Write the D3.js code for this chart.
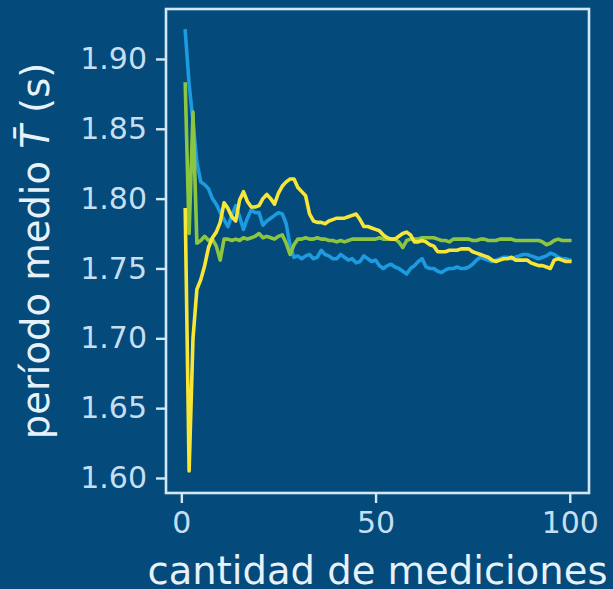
<!DOCTYPE html>
<html>
<head>
<meta charset="utf-8">
<script src="https://cdn.jsdelivr.net/npm/d3@7"></script>
<style>
  html, body { margin: 0; padding: 0; background: #044a7b; }
  svg { display: block; }
  text { font-family: "DejaVu Sans", sans-serif; }
</style>
</head>
<body>
<svg id="chart" width="613" height="589"></svg>
<script>
const measurements = d3.range(1, 101);

const seriesBlue = [
  1.920, 1.882, 1.855, 1.826, 1.812, 1.810, 1.807, 1.800, 1.796, 1.790,
  1.785, 1.780, 1.788, 1.795, 1.787, 1.778, 1.786, 1.792, 1.790, 1.790,
  1.781, 1.784, 1.786, 1.788, 1.790, 1.789, 1.782, 1.766, 1.758, 1.759,
  1.757, 1.759, 1.760, 1.757, 1.758, 1.763, 1.760, 1.759, 1.757, 1.757,
  1.760, 1.758, 1.756, 1.757, 1.754, 1.755, 1.759, 1.757, 1.755, 1.756,
  1.752, 1.750, 1.752, 1.753, 1.751, 1.750, 1.748, 1.746, 1.750, 1.752,
  1.755, 1.757, 1.751, 1.750, 1.750, 1.748, 1.747, 1.749, 1.750, 1.750,
  1.751, 1.750, 1.750, 1.751, 1.753, 1.756, 1.758, 1.757, 1.756, 1.755,
  1.756, 1.757, 1.758, 1.758, 1.757, 1.758, 1.759, 1.760, 1.760, 1.759,
  1.758, 1.757, 1.758, 1.759, 1.761, 1.760, 1.758, 1.757, 1.757, 1.756
];

const seriesGreen = [
  1.882, 1.775, 1.862, 1.768, 1.770, 1.773, 1.770, 1.771, 1.766, 1.756,
  1.771, 1.771, 1.770, 1.771, 1.770, 1.772, 1.771, 1.772, 1.773, 1.775,
  1.772, 1.773, 1.772, 1.771, 1.773, 1.774, 1.768, 1.760, 1.767, 1.771,
  1.771, 1.772, 1.771, 1.771, 1.772, 1.771, 1.771, 1.770, 1.770, 1.769,
  1.770, 1.769, 1.770, 1.771, 1.771, 1.771, 1.771, 1.771, 1.771, 1.771,
  1.772, 1.771, 1.771, 1.771, 1.771, 1.769, 1.765, 1.770, 1.771, 1.771,
  1.771, 1.772, 1.772, 1.772, 1.772, 1.771, 1.770, 1.770, 1.769, 1.771,
  1.771, 1.771, 1.771, 1.771, 1.770, 1.770, 1.771, 1.771, 1.770, 1.770,
  1.770, 1.771, 1.771, 1.771, 1.771, 1.770, 1.770, 1.770, 1.770, 1.770,
  1.770, 1.770, 1.769, 1.767, 1.768, 1.770, 1.771, 1.770, 1.770, 1.770
];

const seriesYellow = [
  1.792, 1.605, 1.700, 1.735, 1.742, 1.752, 1.765, 1.772, 1.776, 1.783,
  1.797, 1.793, 1.787, 1.784, 1.799, 1.805, 1.798, 1.794, 1.794, 1.795,
  1.800, 1.803, 1.800, 1.796, 1.804, 1.809, 1.812, 1.814, 1.814, 1.808,
  1.805, 1.802, 1.789, 1.784, 1.783, 1.783, 1.782, 1.784, 1.785, 1.786,
  1.786, 1.786, 1.787, 1.788, 1.789, 1.785, 1.780, 1.780, 1.779, 1.778,
  1.777, 1.774, 1.772, 1.771, 1.771, 1.773, 1.775, 1.776, 1.774, 1.769,
  1.769, 1.770, 1.769, 1.767, 1.766, 1.762, 1.762, 1.762, 1.763, 1.763,
  1.763, 1.764, 1.764, 1.764, 1.762, 1.761, 1.760, 1.759, 1.758, 1.756,
  1.755, 1.756, 1.757, 1.757, 1.758, 1.756, 1.756, 1.756, 1.756, 1.754,
  1.753, 1.752, 1.752, 1.751, 1.750, 1.756, 1.757, 1.756, 1.755, 1.755
];

const seriesColors = ["#1d9be0", "#8cc640", "#f8e636"];
const xTicks = [0, 50, 100];
const yTicks = [1.60, 1.65, 1.70, 1.75, 1.80, 1.85, 1.90];
const xLabel = "cantidad de mediciones";
const yLabelText = "período medio ";
const yLabelMath = "T\u0304";
const yLabelUnit = " (s)";

const W = 613, H = 589;
const plot = { left: 166, right: 589, top: 9, bottom: 493 };
const fg = "#d3e8f7";

const svg = d3.select("#chart");
svg.append("rect").attr("width", W).attr("height", H).attr("fill", "#044a7b");

const all = seriesBlue.concat(seriesGreen, seriesYellow);
const [ymin, ymax] = d3.extent(all);
const ypad = (ymax - ymin) * 0.05;
const [xmin, xmax] = d3.extent(measurements);
const xpad = (xmax - xmin) * 0.05;

const x = d3.scaleLinear().domain([xmin - xpad, xmax + xpad]).range([plot.left, plot.right]);
const y = d3.scaleLinear().domain([ymin - ypad, ymax + ypad]).range([plot.bottom, plot.top]);

const line = d3.line().x((d, i) => x(measurements[i])).y(d => y(d));

const lines = svg.append("g");
[seriesBlue, seriesGreen, seriesYellow].forEach((s, k) => {
  lines.append("path")
    .datum(s)
    .attr("d", line)
    .attr("fill", "none")
    .attr("stroke", seriesColors[k])
    .attr("stroke-width", 3.6)
    .attr("stroke-linejoin", "round")
    .attr("stroke-linecap", "square");
});

// frame
svg.append("rect")
  .attr("x", plot.left).attr("y", plot.top)
  .attr("width", plot.right - plot.left).attr("height", plot.bottom - plot.top)
  .attr("fill", "none").attr("stroke", fg).attr("stroke-width", 2.6);

const xAxis = d3.axisBottom(x).tickValues(xTicks).tickSize(10).tickPadding(9).tickFormat(d3.format("d"));
const yAxis = d3.axisLeft(y).tickValues(yTicks).tickSize(10).tickPadding(9).tickFormat(d3.format(".2f"));

const gx = svg.append("g").attr("transform", `translate(0,${plot.bottom})`).call(xAxis);
const gy = svg.append("g").attr("transform", `translate(${plot.left},0)`).call(yAxis);
[gx, gy].forEach(g => {
  g.select(".domain").remove();
  g.selectAll(".tick line").attr("stroke", fg).attr("stroke-width", 2.4);
  g.selectAll(".tick text").attr("fill", "#c4def2").style("font-size", "30px");
});

svg.append("text")
  .attr("x", (plot.left + plot.right) / 2).attr("y", 584)
  .attr("text-anchor", "middle").attr("fill", "#e6f1fa")
  .style("font-size", "38.5px")
  .text(xLabel);

const yl = svg.append("text")
  .attr("transform", `translate(49,${(plot.top + plot.bottom) / 2}) rotate(-90)`)
  .attr("text-anchor", "middle").attr("fill", "#e6f1fa")
  .style("font-size", "38.5px");
yl.append("tspan").text(yLabelText);
yl.append("tspan").style("font-style", "italic").text(yLabelMath);
yl.append("tspan").text(yLabelUnit);
</script>
</body>
</html>
